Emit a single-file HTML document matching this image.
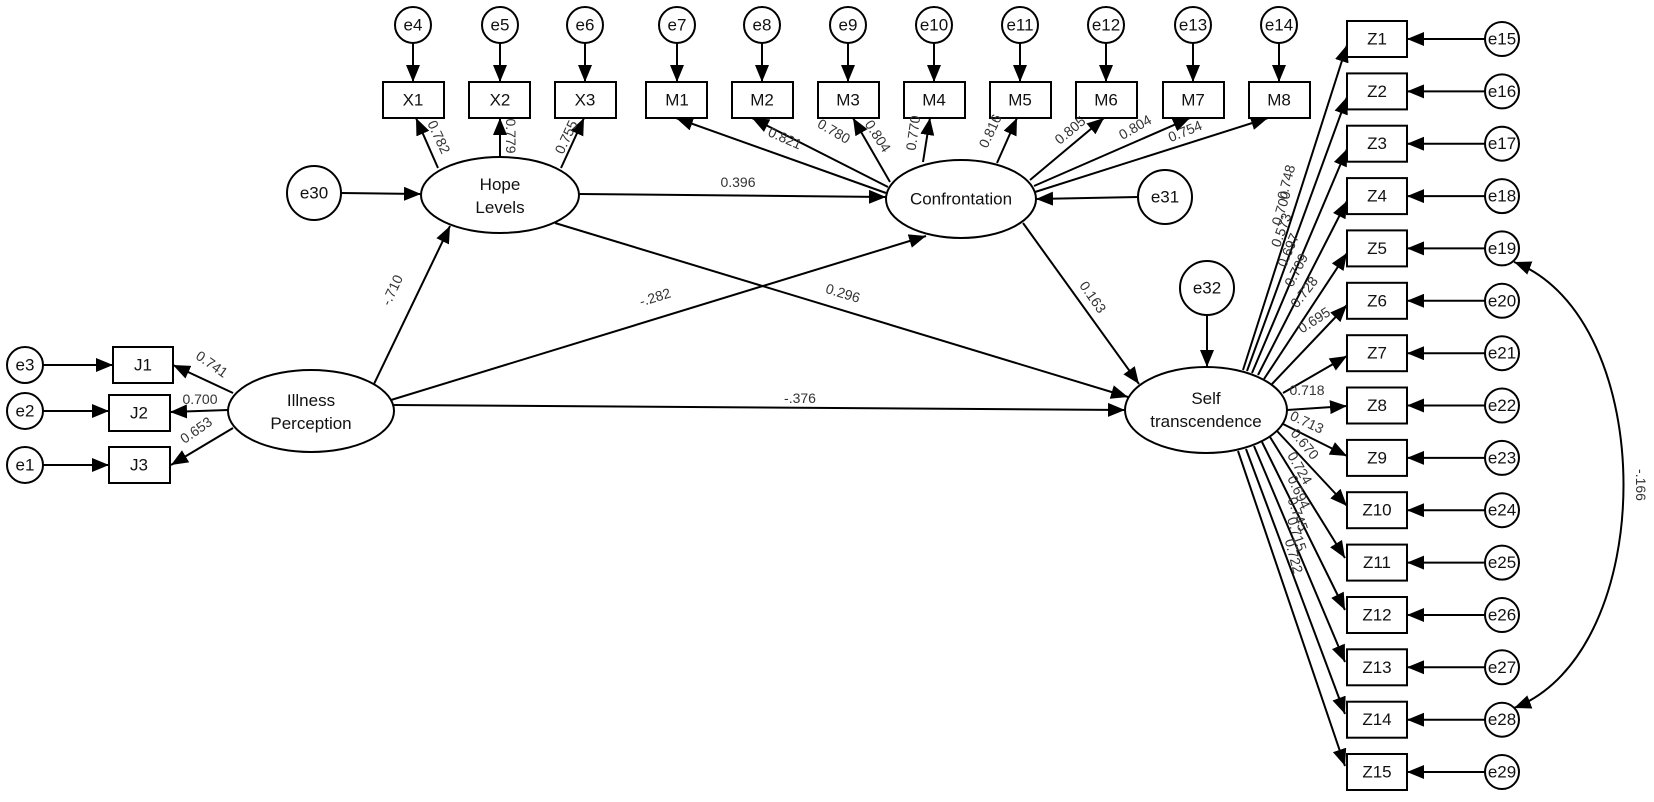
<!DOCTYPE html>
<html><head><meta charset="utf-8"><style>
html,body{margin:0;padding:0;background:#fff}
svg{display:block}
text{font-family:"Liberation Sans",Arial,sans-serif;fill:#111}
.n{font-size:17px;text-anchor:middle;dominant-baseline:central}
.c{font-size:14px;text-anchor:middle;dominant-baseline:central;fill:#333}
.l{font-size:17px;text-anchor:middle}
</style></head><body>
<svg width="1654" height="802" viewBox="0 0 1654 802" xmlns="http://www.w3.org/2000/svg">
<defs>
<marker id="a" markerUnits="userSpaceOnUse" markerWidth="18" markerHeight="14" refX="17" refY="7" orient="auto-start-reverse"><path d="M0,0 L17,7 L0,14 z" fill="#000"/></marker>
</defs>
<g stroke="#000" stroke-width="2" fill="none" marker-end="url(#a)">
<!-- e -> X -->
<line x1="413" y1="43" x2="413" y2="82"/><line x1="500" y1="43" x2="500" y2="82"/><line x1="585" y1="43" x2="585" y2="82"/>
<!-- e -> M -->
<line x1="677" y1="43" x2="677" y2="82"/><line x1="762" y1="43" x2="762" y2="82"/><line x1="848" y1="43" x2="848" y2="82"/><line x1="934" y1="43" x2="934" y2="82"/>
<line x1="1020" y1="43" x2="1020" y2="82"/><line x1="1106" y1="43" x2="1106" y2="82"/><line x1="1193" y1="43" x2="1193" y2="82"/><line x1="1279" y1="43" x2="1279" y2="82"/>
<!-- Hope -> X -->
<line x1="438" y1="168" x2="416" y2="118"/><line x1="500" y1="157" x2="500" y2="118"/><line x1="561" y1="168" x2="584" y2="118"/>
<!-- e30 -> Hope -->
<line x1="341" y1="193" x2="421" y2="194"/>
<!-- J -->
<line x1="43" y1="365" x2="113" y2="365"/><line x1="43" y1="411" x2="109" y2="411"/><line x1="43" y1="465" x2="109" y2="465"/>
<line x1="233" y1="393" x2="173" y2="365"/><line x1="228" y1="410" x2="170" y2="412"/><line x1="233" y1="428" x2="171" y2="465"/>
<!-- structural -->
<line x1="374" y1="384" x2="450" y2="226"/>
<line x1="391" y1="400" x2="926" y2="236"/>
<line x1="394" y1="405" x2="1125" y2="410"/>
<line x1="579" y1="194" x2="886" y2="197"/>
<line x1="555" y1="223" x2="1128" y2="397"/>
<line x1="1023" y1="223" x2="1139" y2="384"/>
<line x1="1138" y1="197" x2="1036" y2="199"/>
<line x1="1207" y1="315" x2="1207" y2="367"/>
<!-- C -> M -->
<line x1="886" y1="193" x2="676" y2="118"/>
<line x1="888" y1="187" x2="752" y2="118"/>
<line x1="890" y1="182" x2="853" y2="118"/>
<line x1="923" y1="162" x2="930" y2="118"/>
<line x1="997" y1="163" x2="1017" y2="118"/>
<line x1="1030" y1="180" x2="1104" y2="118"/>
<line x1="1034" y1="186" x2="1190" y2="118"/>
<line x1="1035" y1="192" x2="1268" y2="118"/>
<!-- S -> Z -->
<line x1="1243" y1="370" x2="1347" y2="45"/>
<line x1="1247" y1="371" x2="1347" y2="97"/>
<line x1="1252" y1="373" x2="1347" y2="149"/>
<line x1="1258" y1="375" x2="1347" y2="201"/>
<line x1="1264" y1="379" x2="1347" y2="253"/>
<line x1="1272" y1="384" x2="1347" y2="305"/>
<line x1="1283" y1="393" x2="1347" y2="356"/>
<line x1="1287" y1="410" x2="1347" y2="406"/>
<line x1="1283" y1="424" x2="1347" y2="456"/>
<line x1="1277" y1="431" x2="1347" y2="506"/>
<line x1="1270" y1="437" x2="1345" y2="558"/>
<line x1="1262" y1="442" x2="1345" y2="610"/>
<line x1="1254" y1="446" x2="1345" y2="662"/>
<line x1="1246" y1="449" x2="1345" y2="714"/>
<line x1="1238" y1="451" x2="1345" y2="766"/>
<!-- e -> Z -->
<line x1="1485" y1="39" x2="1407" y2="39"/><line x1="1485" y1="91.4" x2="1407" y2="91.4"/><line x1="1485" y1="143.7" x2="1407" y2="143.7"/>
<line x1="1485" y1="196.1" x2="1407" y2="196.1"/><line x1="1485" y1="248.4" x2="1407" y2="248.4"/><line x1="1485" y1="300.8" x2="1407" y2="300.8"/>
<line x1="1485" y1="353.2" x2="1407" y2="353.2"/><line x1="1485" y1="405.5" x2="1407" y2="405.5"/><line x1="1485" y1="457.9" x2="1407" y2="457.9"/>
<line x1="1485" y1="510.2" x2="1407" y2="510.2"/><line x1="1485" y1="562.6" x2="1407" y2="562.6"/><line x1="1485" y1="615" x2="1407" y2="615"/>
<line x1="1485" y1="667.3" x2="1407" y2="667.3"/><line x1="1485" y1="719.7" x2="1407" y2="719.7"/><line x1="1485" y1="772" x2="1407" y2="772"/>
<path d="M1514,262 C1660,318 1660,652 1514,708" marker-start="url(#a)"/>
</g>
<g stroke="#000" stroke-width="2" fill="#fff">
<ellipse cx="500" cy="195" rx="79" ry="38"/>
<ellipse cx="311" cy="411" rx="83" ry="41"/>
<ellipse cx="961" cy="199" rx="75" ry="39"/>
<ellipse cx="1206" cy="410" rx="81" ry="43"/>
<circle cx="314" cy="193" r="27"/><circle cx="1165" cy="197" r="27"/><circle cx="1207" cy="288" r="27"/>
<circle cx="413" cy="25" r="18"/><circle cx="500" cy="25" r="18"/><circle cx="585" cy="25" r="18"/>
<circle cx="677" cy="25" r="18"/><circle cx="762" cy="25" r="18"/><circle cx="848" cy="25" r="18"/><circle cx="934" cy="25" r="18"/>
<circle cx="1020" cy="25" r="18"/><circle cx="1106" cy="25" r="18"/><circle cx="1193" cy="25" r="18"/><circle cx="1279" cy="25" r="18"/>
<circle cx="25" cy="365" r="18"/><circle cx="25" cy="411" r="18"/><circle cx="25" cy="465" r="18"/>
<rect x="383" y="82" width="61" height="36"/><rect x="469" y="82" width="61" height="36"/><rect x="555" y="82" width="61" height="36"/>
<rect x="646" y="82" width="61" height="36"/><rect x="732" y="82" width="61" height="36"/><rect x="818" y="82" width="61" height="36"/><rect x="904" y="82" width="61" height="36"/>
<rect x="990" y="82" width="61" height="36"/><rect x="1076" y="82" width="61" height="36"/><rect x="1163" y="82" width="61" height="36"/><rect x="1249" y="82" width="61" height="36"/>
<rect x="113" y="347" width="60" height="36"/><rect x="109" y="395" width="61" height="36"/><rect x="109" y="447" width="61" height="36"/>
<g>
<rect x="1347" y="21" width="60" height="36"/><rect x="1347" y="73.4" width="60" height="36"/><rect x="1347" y="125.7" width="60" height="36"/>
<rect x="1347" y="178.1" width="60" height="36"/><rect x="1347" y="230.4" width="60" height="36"/><rect x="1347" y="282.8" width="60" height="36"/>
<rect x="1347" y="335.2" width="60" height="36"/><rect x="1347" y="387.5" width="60" height="36"/><rect x="1347" y="439.9" width="60" height="36"/>
<rect x="1347" y="492.2" width="60" height="36"/><rect x="1347" y="544.6" width="60" height="36"/><rect x="1347" y="597" width="60" height="36"/>
<rect x="1347" y="649.3" width="60" height="36"/><rect x="1347" y="701.7" width="60" height="36"/><rect x="1347" y="754" width="60" height="36"/>
</g>
<circle cx="1502" cy="39" r="17"/><circle cx="1502" cy="91.4" r="17"/><circle cx="1502" cy="143.7" r="17"/><circle cx="1502" cy="196.1" r="17"/>
<circle cx="1502" cy="248.4" r="17"/><circle cx="1502" cy="300.8" r="17"/><circle cx="1502" cy="353.2" r="17"/><circle cx="1502" cy="405.5" r="17"/>
<circle cx="1502" cy="457.9" r="17"/><circle cx="1502" cy="510.2" r="17"/><circle cx="1502" cy="562.6" r="17"/><circle cx="1502" cy="615" r="17"/>
<circle cx="1502" cy="667.3" r="17"/><circle cx="1502" cy="719.7" r="17"/><circle cx="1502" cy="772" r="17"/>
</g>
<!-- node labels -->
<text class="l" x="500" y="190">Hope</text><text class="l" x="500" y="213">Levels</text>
<text class="l" x="311" y="406">Illness</text><text class="l" x="311" y="429">Perception</text>
<text class="n" x="961" y="199">Confrontation</text>
<text class="l" x="1206" y="404">Self</text><text class="l" x="1206" y="427">transcendence</text>
<text class="n" x="314" y="193">e30</text><text class="n" x="1165" y="197">e31</text><text class="n" x="1207" y="288">e32</text>
<text class="n" x="413" y="25">e4</text><text class="n" x="500" y="25">e5</text><text class="n" x="585" y="25">e6</text>
<text class="n" x="677" y="25">e7</text><text class="n" x="762" y="25">e8</text><text class="n" x="848" y="25">e9</text><text class="n" x="934" y="25">e10</text>
<text class="n" x="1020" y="25">e11</text><text class="n" x="1106" y="25">e12</text><text class="n" x="1193" y="25">e13</text><text class="n" x="1279" y="25">e14</text>
<text class="n" x="25" y="365">e3</text><text class="n" x="25" y="411">e2</text><text class="n" x="25" y="465">e1</text>
<text class="n" x="413" y="100">X1</text><text class="n" x="500" y="100">X2</text><text class="n" x="585" y="100">X3</text>
<text class="n" x="677" y="100">M1</text><text class="n" x="762" y="100">M2</text><text class="n" x="848" y="100">M3</text><text class="n" x="934" y="100">M4</text>
<text class="n" x="1020" y="100">M5</text><text class="n" x="1106" y="100">M6</text><text class="n" x="1193" y="100">M7</text><text class="n" x="1279" y="100">M8</text>
<text class="n" x="143" y="365">J1</text><text class="n" x="139" y="413">J2</text><text class="n" x="139" y="465">J3</text>
<text class="n" x="1377" y="39">Z1</text><text class="n" x="1377" y="91.4">Z2</text><text class="n" x="1377" y="143.7">Z3</text><text class="n" x="1377" y="196.1">Z4</text>
<text class="n" x="1377" y="248.4">Z5</text><text class="n" x="1377" y="300.8">Z6</text><text class="n" x="1377" y="353.2">Z7</text><text class="n" x="1377" y="405.5">Z8</text>
<text class="n" x="1377" y="457.9">Z9</text><text class="n" x="1377" y="510.2">Z10</text><text class="n" x="1377" y="562.6">Z11</text><text class="n" x="1377" y="615">Z12</text>
<text class="n" x="1377" y="667.3">Z13</text><text class="n" x="1377" y="719.7">Z14</text><text class="n" x="1377" y="772">Z15</text>
<text class="n" x="1502" y="39">e15</text><text class="n" x="1502" y="91.4">e16</text><text class="n" x="1502" y="143.7">e17</text><text class="n" x="1502" y="196.1">e18</text>
<text class="n" x="1502" y="248.4">e19</text><text class="n" x="1502" y="300.8">e20</text><text class="n" x="1502" y="353.2">e21</text><text class="n" x="1502" y="405.5">e22</text>
<text class="n" x="1502" y="457.9">e23</text><text class="n" x="1502" y="510.2">e24</text><text class="n" x="1502" y="562.6">e25</text><text class="n" x="1502" y="615">e26</text>
<text class="n" x="1502" y="667.3">e27</text><text class="n" x="1502" y="719.7">e28</text><text class="n" x="1502" y="772">e29</text>
<!-- coefficients -->
<text class="c" x="738" y="182">0.396</text>
<text class="c" transform="translate(843,293) rotate(17)">0.296</text>
<text class="c" transform="translate(655,297) rotate(-17)">-.282</text>
<text class="c" x="800" y="398">-.376</text>
<text class="c" transform="translate(392,290) rotate(-65)">-.710</text>
<text class="c" transform="translate(1093,297) rotate(55)">0.163</text>
<text class="c" transform="translate(1641,485) rotate(90)">-.166</text>
<text class="c" transform="translate(439,137) rotate(65)">0.782</text>
<text class="c" transform="translate(511,136) rotate(90)">0.779</text>
<text class="c" transform="translate(566,137) rotate(-65)">0.755</text>
<text class="c" transform="translate(212,364) rotate(35)">0.741</text>
<text class="c" x="200" y="399">0.700</text>
<text class="c" transform="translate(196,430) rotate(-35)">0.653</text>
<text class="c" transform="translate(785,138) rotate(24)">0.821</text>
<text class="c" transform="translate(834,131) rotate(30)">0.780</text>
<text class="c" transform="translate(878,136) rotate(57)">0.804</text>
<text class="c" transform="translate(913,133) rotate(-82)">0.770</text>
<text class="c" transform="translate(990,131) rotate(-65)">0.816</text>
<text class="c" transform="translate(1070,130) rotate(-40)">0.805</text>
<text class="c" transform="translate(1135,127) rotate(-30)">0.804</text>
<text class="c" transform="translate(1185,131) rotate(-22)">0.754</text>
<text class="c" transform="translate(1286,182) rotate(-75)">0.748</text>
<text class="c" transform="translate(1281,208) rotate(-73)">0.700</text>
<text class="c" transform="translate(1281,230) rotate(-70)">0.573</text>
<text class="c" transform="translate(1288,250) rotate(-67)">0.697</text>
<text class="c" transform="translate(1296,270) rotate(-63)">0.709</text>
<text class="c" transform="translate(1304,292) rotate(-52)">0.728</text>
<text class="c" transform="translate(1314,320) rotate(-33)">0.695</text>
<text class="c" x="1307" y="390">0.718</text>
<text class="c" transform="translate(1307,422) rotate(25)">0.713</text>
<text class="c" transform="translate(1305,444) rotate(50)">0.670</text>
<text class="c" transform="translate(1300,468) rotate(60)">0.724</text>
<text class="c" transform="translate(1299,492) rotate(65)">0.694</text>
<text class="c" transform="translate(1298,514) rotate(70)">0.745</text>
<text class="c" transform="translate(1297,534) rotate(72)">0.715</text>
<text class="c" transform="translate(1294,556) rotate(75)">0.722</text>
</svg>
</body></html>
